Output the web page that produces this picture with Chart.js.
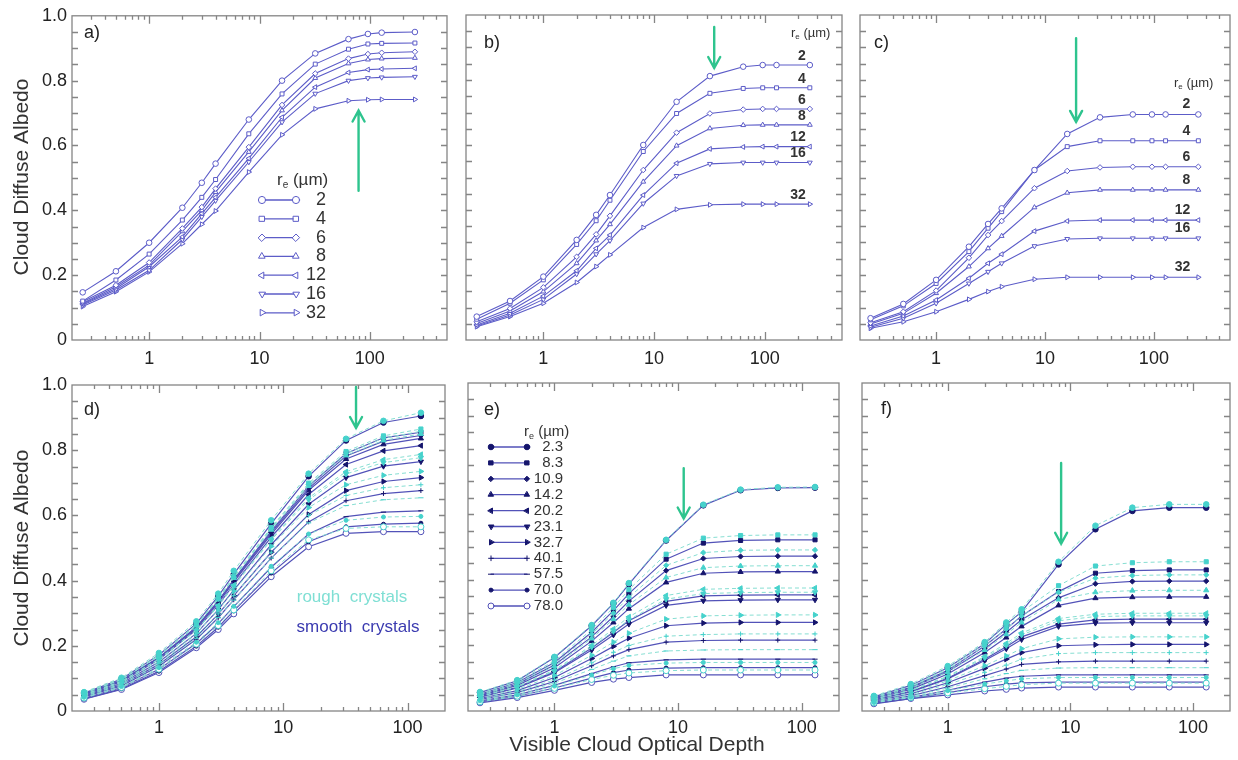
<!DOCTYPE html>
<html>
<head>
<meta charset="utf-8">
<script src="https://cdn.jsdelivr.net/npm/chart.js@4.4.0/dist/chart.umd.min.js"></script>
<style>
  body { margin: 0; background: #fff; width: 1238px; height: 760px; overflow: hidden; position: relative; }
  canvas { position: absolute; left: 0; top: 0; }
</style>
</head>
<body>
<canvas id="pa" width="1238" height="760"></canvas>
<canvas id="pb" width="1238" height="760"></canvas>
<canvas id="pc" width="1238" height="760"></canvas>
<canvas id="pd" width="1238" height="760"></canvas>
<canvas id="pe" width="1238" height="760"></canvas>
<canvas id="pf" width="1238" height="760"></canvas>
<script>
// optical depths used in the water (top) and ice (bottom) runs
const tauWater = [0.25, 0.5, 1, 2, 3, 4, 8, 16, 32, 64, 96, 128, 256];
const tauIce = [0.25, 0.5, 1, 2, 3, 4, 8, 16, 32, 64, 128];
const radiiWater = ['2', '4', '6', '8', '12', '16', '32'];
const radiiIce = ['2.3', '8.3', '10.9', '14.2', '20.2', '23.1', '32.7', '40.1', '57.5', '70.0', '78.0'];
const xTickLabels = [1, 10, 100];
const yTickLabels = [0, 0.2, 0.4, 0.6, 0.8, 1.0];

// a) water clouds
const albedoA = [
  [0.147, 0.212, 0.300, 0.408, 0.485, 0.544, 0.680, 0.800, 0.884, 0.928, 0.944, 0.948, 0.950],
  [0.120, 0.185, 0.265, 0.370, 0.440, 0.495, 0.636, 0.759, 0.851, 0.897, 0.913, 0.915, 0.916],
  [0.118, 0.169, 0.239, 0.344, 0.410, 0.467, 0.595, 0.725, 0.822, 0.868, 0.882, 0.886, 0.889],
  [0.113, 0.164, 0.231, 0.335, 0.400, 0.456, 0.580, 0.708, 0.808, 0.853, 0.865, 0.868, 0.870],
  [0.111, 0.159, 0.226, 0.318, 0.390, 0.440, 0.560, 0.687, 0.780, 0.825, 0.834, 0.836, 0.838],
  [0.108, 0.154, 0.215, 0.310, 0.380, 0.430, 0.549, 0.672, 0.760, 0.800, 0.808, 0.810, 0.812],
  [0.103, 0.149, 0.210, 0.297, 0.357, 0.398, 0.518, 0.633, 0.713, 0.738, 0.741, 0.742, 0.742]
];
// b)
const albedoB = [
  [0.072, 0.120, 0.195, 0.308, 0.385, 0.446, 0.600, 0.733, 0.812, 0.841, 0.846, 0.846, 0.846],
  [0.064, 0.113, 0.185, 0.294, 0.367, 0.430, 0.580, 0.697, 0.759, 0.774, 0.776, 0.776, 0.776],
  [0.056, 0.097, 0.162, 0.256, 0.325, 0.382, 0.523, 0.638, 0.697, 0.709, 0.711, 0.711, 0.711],
  [0.051, 0.089, 0.149, 0.236, 0.306, 0.356, 0.487, 0.598, 0.651, 0.661, 0.662, 0.662, 0.662],
  [0.046, 0.082, 0.135, 0.213, 0.282, 0.323, 0.446, 0.544, 0.588, 0.594, 0.595, 0.595, 0.595],
  [0.043, 0.077, 0.125, 0.203, 0.264, 0.306, 0.420, 0.505, 0.542, 0.546, 0.546, 0.546, 0.546],
  [0.041, 0.072, 0.113, 0.177, 0.226, 0.262, 0.346, 0.402, 0.416, 0.418, 0.418, 0.418, 0.418]
];
// c)
const albedoC = [
  [0.067, 0.111, 0.185, 0.287, 0.357, 0.405, 0.523, 0.634, 0.685, 0.694, 0.694, 0.694, 0.694],
  [0.062, 0.105, 0.174, 0.272, 0.344, 0.395, 0.523, 0.595, 0.613, 0.613, 0.613, 0.613, 0.613],
  [0.053, 0.087, 0.152, 0.253, 0.323, 0.366, 0.467, 0.520, 0.531, 0.533, 0.533, 0.533, 0.533],
  [0.049, 0.082, 0.144, 0.226, 0.282, 0.320, 0.408, 0.453, 0.462, 0.462, 0.462, 0.462, 0.462],
  [0.043, 0.074, 0.123, 0.190, 0.236, 0.264, 0.335, 0.366, 0.369, 0.369, 0.369, 0.369, 0.369],
  [0.039, 0.067, 0.113, 0.174, 0.210, 0.236, 0.289, 0.311, 0.313, 0.313, 0.313, 0.313, 0.313],
  [0.036, 0.056, 0.087, 0.125, 0.149, 0.164, 0.187, 0.193, 0.193, 0.193, 0.193, 0.193, 0.193]
];

// d) ice clouds, smooth and rough crystals
const smoothD = [
  [0.055, 0.098, 0.172, 0.268, 0.352, 0.420, 0.575, 0.720, 0.830, 0.885, 0.905],
  [0.052, 0.094, 0.164, 0.258, 0.338, 0.403, 0.552, 0.690, 0.790, 0.838, 0.855],
  [0.052, 0.093, 0.163, 0.255, 0.335, 0.399, 0.547, 0.683, 0.782, 0.828, 0.845],
  [0.051, 0.092, 0.161, 0.253, 0.332, 0.396, 0.542, 0.677, 0.773, 0.818, 0.836],
  [0.050, 0.090, 0.158, 0.249, 0.325, 0.388, 0.533, 0.664, 0.756, 0.798, 0.814],
  [0.047, 0.085, 0.150, 0.238, 0.311, 0.371, 0.510, 0.634, 0.716, 0.751, 0.765],
  [0.045, 0.081, 0.143, 0.228, 0.297, 0.354, 0.487, 0.603, 0.676, 0.704, 0.716],
  [0.043, 0.077, 0.137, 0.220, 0.286, 0.341, 0.469, 0.580, 0.645, 0.667, 0.676],
  [0.039, 0.072, 0.128, 0.207, 0.268, 0.320, 0.441, 0.543, 0.596, 0.610, 0.614],
  [0.037, 0.068, 0.122, 0.199, 0.257, 0.307, 0.423, 0.519, 0.565, 0.573, 0.576],
  [0.036, 0.066, 0.118, 0.194, 0.250, 0.298, 0.412, 0.504, 0.545, 0.550, 0.550]
];
const roughD = [
  [0.058, 0.102, 0.178, 0.275, 0.360, 0.430, 0.585, 0.728, 0.835, 0.890, 0.915],
  [0.055, 0.098, 0.171, 0.265, 0.346, 0.413, 0.563, 0.699, 0.796, 0.844, 0.865],
  [0.055, 0.097, 0.170, 0.264, 0.344, 0.410, 0.560, 0.695, 0.790, 0.837, 0.858],
  [0.055, 0.096, 0.169, 0.262, 0.342, 0.408, 0.556, 0.690, 0.784, 0.830, 0.850],
  [0.051, 0.091, 0.160, 0.249, 0.324, 0.386, 0.528, 0.654, 0.734, 0.771, 0.787],
  [0.051, 0.090, 0.158, 0.247, 0.321, 0.383, 0.524, 0.648, 0.727, 0.762, 0.777],
  [0.049, 0.087, 0.152, 0.239, 0.310, 0.368, 0.505, 0.624, 0.694, 0.723, 0.735],
  [0.047, 0.083, 0.146, 0.231, 0.298, 0.354, 0.487, 0.600, 0.661, 0.685, 0.694],
  [0.045, 0.080, 0.141, 0.223, 0.287, 0.340, 0.469, 0.577, 0.630, 0.648, 0.654],
  [0.042, 0.075, 0.133, 0.211, 0.271, 0.321, 0.444, 0.543, 0.585, 0.595, 0.597],
  [0.040, 0.072, 0.128, 0.205, 0.262, 0.310, 0.430, 0.525, 0.560, 0.565, 0.565]
];
// e)
const smoothE = [
  [0.056, 0.092, 0.163, 0.260, 0.328, 0.387, 0.520, 0.627, 0.673, 0.680, 0.681],
  [0.051, 0.087, 0.148, 0.240, 0.306, 0.358, 0.463, 0.512, 0.520, 0.522, 0.522],
  [0.048, 0.082, 0.140, 0.226, 0.288, 0.335, 0.428, 0.465, 0.471, 0.472, 0.472],
  [0.046, 0.078, 0.132, 0.213, 0.270, 0.312, 0.392, 0.420, 0.424, 0.425, 0.425],
  [0.043, 0.072, 0.120, 0.192, 0.240, 0.275, 0.334, 0.351, 0.353, 0.354, 0.354],
  [0.042, 0.070, 0.117, 0.186, 0.232, 0.265, 0.322, 0.336, 0.338, 0.339, 0.339],
  [0.038, 0.062, 0.102, 0.160, 0.197, 0.222, 0.260, 0.268, 0.270, 0.270, 0.270],
  [0.035, 0.056, 0.090, 0.138, 0.168, 0.187, 0.210, 0.215, 0.216, 0.216, 0.216],
  [0.031, 0.049, 0.078, 0.114, 0.135, 0.147, 0.156, 0.158, 0.158, 0.158, 0.158],
  [0.028, 0.045, 0.070, 0.100, 0.117, 0.125, 0.131, 0.132, 0.132, 0.132, 0.132],
  [0.025, 0.041, 0.063, 0.087, 0.097, 0.102, 0.110, 0.110, 0.110, 0.110, 0.110]
];
const roughE = [
  [0.058, 0.094, 0.165, 0.262, 0.330, 0.390, 0.522, 0.629, 0.675, 0.682, 0.683],
  [0.053, 0.090, 0.153, 0.248, 0.316, 0.370, 0.478, 0.527, 0.535, 0.537, 0.537],
  [0.050, 0.085, 0.145, 0.234, 0.298, 0.347, 0.444, 0.483, 0.490, 0.491, 0.491],
  [0.048, 0.081, 0.137, 0.221, 0.280, 0.324, 0.407, 0.437, 0.442, 0.443, 0.443],
  [0.045, 0.075, 0.125, 0.200, 0.250, 0.287, 0.352, 0.371, 0.374, 0.375, 0.375],
  [0.044, 0.073, 0.122, 0.195, 0.243, 0.278, 0.341, 0.358, 0.361, 0.362, 0.362],
  [0.040, 0.066, 0.108, 0.170, 0.210, 0.237, 0.280, 0.290, 0.292, 0.293, 0.293],
  [0.037, 0.059, 0.095, 0.147, 0.179, 0.200, 0.228, 0.233, 0.235, 0.235, 0.235],
  [0.034, 0.054, 0.085, 0.127, 0.152, 0.168, 0.183, 0.186, 0.187, 0.187, 0.187],
  [0.031, 0.049, 0.076, 0.110, 0.129, 0.139, 0.146, 0.148, 0.148, 0.148, 0.148],
  [0.028, 0.045, 0.069, 0.096, 0.109, 0.116, 0.123, 0.125, 0.125, 0.125, 0.125]
];
// f)
const smoothF = [
  [0.043, 0.078, 0.132, 0.205, 0.264, 0.302, 0.447, 0.554, 0.610, 0.620, 0.620],
  [0.040, 0.072, 0.124, 0.198, 0.250, 0.290, 0.364, 0.420, 0.428, 0.430, 0.430],
  [0.039, 0.070, 0.120, 0.190, 0.240, 0.278, 0.345, 0.388, 0.395, 0.396, 0.396],
  [0.037, 0.066, 0.113, 0.178, 0.224, 0.258, 0.322, 0.344, 0.347, 0.348, 0.348],
  [0.034, 0.060, 0.100, 0.158, 0.196, 0.226, 0.265, 0.278, 0.280, 0.280, 0.280],
  [0.033, 0.058, 0.098, 0.154, 0.190, 0.218, 0.258, 0.268, 0.269, 0.269, 0.269],
  [0.030, 0.052, 0.086, 0.130, 0.158, 0.178, 0.199, 0.202, 0.203, 0.203, 0.203],
  [0.027, 0.046, 0.074, 0.108, 0.128, 0.142, 0.150, 0.152, 0.152, 0.152, 0.152],
  [0.025, 0.041, 0.063, 0.088, 0.100, 0.106, 0.110, 0.110, 0.110, 0.110, 0.110],
  [0.023, 0.038, 0.056, 0.074, 0.082, 0.086, 0.088, 0.088, 0.088, 0.088, 0.088],
  [0.022, 0.038, 0.049, 0.061, 0.066, 0.070, 0.073, 0.073, 0.073, 0.073, 0.073]
];
const roughF = [
  [0.046, 0.082, 0.137, 0.210, 0.270, 0.310, 0.455, 0.565, 0.620, 0.630, 0.630],
  [0.043, 0.076, 0.130, 0.206, 0.260, 0.302, 0.382, 0.442, 0.452, 0.455, 0.455],
  [0.042, 0.074, 0.126, 0.198, 0.250, 0.290, 0.362, 0.405, 0.413, 0.415, 0.415],
  [0.040, 0.070, 0.119, 0.186, 0.234, 0.270, 0.340, 0.362, 0.367, 0.368, 0.368],
  [0.037, 0.064, 0.106, 0.166, 0.206, 0.238, 0.282, 0.295, 0.298, 0.298, 0.298],
  [0.036, 0.062, 0.104, 0.162, 0.200, 0.232, 0.275, 0.288, 0.290, 0.290, 0.290],
  [0.033, 0.056, 0.092, 0.138, 0.168, 0.190, 0.220, 0.225, 0.226, 0.226, 0.226],
  [0.030, 0.050, 0.081, 0.118, 0.140, 0.158, 0.175, 0.178, 0.178, 0.178, 0.178],
  [0.028, 0.045, 0.070, 0.098, 0.114, 0.124, 0.131, 0.132, 0.132, 0.132, 0.132],
  [0.026, 0.042, 0.062, 0.082, 0.092, 0.098, 0.102, 0.102, 0.102, 0.102, 0.102],
  [0.025, 0.041, 0.055, 0.068, 0.075, 0.080, 0.085, 0.085, 0.085, 0.085, 0.085]
];

const FONT = "'Liberation Sans', Arial, Helvetica, sans-serif";
const LINE_WATER = '#5c5cc8';
const LINE_SMOOTH = '#5252b8';
const DOT_SMOOTH = '#15156c';
const LINE_ROUGH = '#86ded2';
const DOT_ROUGH = '#46d2cc';
const ARROW = '#2ec48e';

const waterMarkers = [
  { s: 'circle' }, { s: 'rect' }, { s: 'rectRot' }, { s: 'triangle' },
  { s: 'triangle', rot: -90 }, { s: 'triangle', rot: 180 }, { s: 'triangle', rot: 90 }
];
const iceMarkers = [
  { s: 'circle', r: 2.8 }, { s: 'rect', r: 2.9 }, { s: 'rectRot', r: 2.6 }, { s: 'triangle', r: 3 },
  { s: 'triangle', r: 3, rot: -90 }, { s: 'triangle', r: 3, rot: 180 }, { s: 'triangle', r: 3, rot: 90 },
  { s: 'cross', r: 2.4 }, { s: 'line', r: 2.6 }, { s: 'circle', r: 2 }, { s: 'circle', r: 3, open: true }
];

function points(taus, vals) {
  return taus.map((t, i) => ({ x: t, y: vals[i] }));
}

function waterSets(curves) {
  return curves.map((vals, i) => ({
    label: radiiWater[i],
    data: points(tauWater, vals),
    borderColor: LINE_WATER,
    borderWidth: 1.1,
    pointStyle: waterMarkers[i].s,
    pointRotation: waterMarkers[i].rot || 0,
    pointRadius: 2.8,
    pointBorderWidth: 1,
    pointBorderColor: LINE_WATER,
    pointBackgroundColor: '#fff'
  }));
}

function iceSets(smooth, rough) {
  const sets = [];
  rough.forEach((vals, i) => {
    const m = iceMarkers[i];
    sets.push({
      label: 'rough ' + radiiIce[i],
      data: points(tauIce, vals),
      borderColor: LINE_ROUGH,
      borderWidth: 1,
      borderDash: [4, 3],
      pointStyle: m.s,
      pointRotation: m.rot || 0,
      pointRadius: m.r,
      pointBorderWidth: 1,
      pointBorderColor: DOT_ROUGH,
      pointBackgroundColor: m.open ? '#fff' : DOT_ROUGH
    });
  });
  smooth.forEach((vals, i) => {
    const m = iceMarkers[i];
    sets.push({
      label: 'smooth ' + radiiIce[i],
      data: points(tauIce, vals),
      borderColor: LINE_SMOOTH,
      borderWidth: 1.2,
      pointStyle: m.s,
      pointRotation: m.rot || 0,
      pointRadius: m.r,
      pointBorderWidth: 1,
      pointBorderColor: m.open ? LINE_SMOOTH : DOT_SMOOTH,
      pointBackgroundColor: m.open ? '#fff' : DOT_SMOOTH
    });
  });
  return sets;
}

// r_e (µm) with a subscript e
function drawRe(ctx, x, y, size, color) {
  ctx.fillStyle = color;
  ctx.textAlign = 'left';
  ctx.textBaseline = 'middle';
  ctx.font = `${size}px ${FONT}`;
  ctx.fillText('r', x, y);
  const w = ctx.measureText('r').width;
  ctx.font = `${Math.round(size * 0.6)}px ${FONT}`;
  ctx.fillText('e', x + w, y + size * 0.3);
  const we = ctx.measureText('e').width;
  ctx.font = `${size}px ${FONT}`;
  ctx.fillText(' (µm)', x + w + we, y);
}

function drawMarker(ctx, m, x, y, fill, stroke) {
  ctx.fillStyle = fill;
  ctx.strokeStyle = stroke;
  ctx.lineWidth = 1;
  Chart.helpers.drawPoint(ctx, { pointStyle: m.s, rotation: m.rot || 0, radius: m.r || 3, borderWidth: 1 }, x, y);
}

const panelDecor = {
  id: 'panelDecor',
  beforeDatasetsDraw(chart) {
    const { ctx, chartArea: a } = chart;
    const xs = chart.scales.x, ys = chart.scales.y;
    ctx.save();
    ctx.strokeStyle = '#858585';
    ctx.lineWidth = 1.3;
    ctx.strokeRect(a.left, a.top, a.right - a.left, a.bottom - a.top);
    ctx.beginPath();
    xs.ticks.forEach(t => {
      const v = t.value;
      const e = Math.floor(Math.log10(v) + 1e-9);
      const m = v / Math.pow(10, e);
      if (Math.abs(m - Math.round(m)) > 1e-6) return;
      const px = Math.round(xs.getPixelForValue(v)) + 0.5;
      if (px <= a.left + 1 || px >= a.right - 1) return;
      const len = Math.round(m) === 1 ? 8 : 4;
      ctx.moveTo(px, a.bottom); ctx.lineTo(px, a.bottom - len);
      ctx.moveTo(px, a.top); ctx.lineTo(px, a.top + len);
    });
    ys.ticks.forEach(t => {
      const py = Math.round(ys.getPixelForValue(t.value)) + 0.5;
      if (py <= a.top + 1 || py >= a.bottom - 1) return;
      ctx.moveTo(a.left, py); ctx.lineTo(a.left + 6, py);
      ctx.moveTo(a.right, py); ctx.lineTo(a.right - 6, py);
    });
    ctx.stroke();
    ctx.restore();
  },
  afterDatasetsDraw(chart, args, o) {
    const { ctx } = chart;
    const xs = chart.scales.x, ys = chart.scales.y;
    ctx.save();

    // panel letter
    ctx.fillStyle = '#222';
    ctx.font = `18px ${FONT}`;
    ctx.textAlign = 'left';
    ctx.textBaseline = 'middle';
    ctx.fillText(o.tag, o.tagX, o.tagY);

    // green arrow
    if (o.arrow) {
      const px = xs.getPixelForValue(o.arrow.x);
      const y0 = ys.getPixelForValue(o.arrow.from);
      const y1 = ys.getPixelForValue(o.arrow.to);
      const dir = y1 > y0 ? 1 : -1;
      ctx.strokeStyle = ARROW;
      ctx.lineWidth = 2.4;
      ctx.lineCap = 'round';
      ctx.beginPath();
      ctx.moveTo(px, y0); ctx.lineTo(px, y1);
      ctx.moveTo(px - 6, y1 - dir * 11); ctx.lineTo(px, y1); ctx.lineTo(px + 6, y1 - dir * 11);
      ctx.stroke();
    }

    // numbers at the end of each curve (b, c)
    if (o.endLabels) {
      ctx.fillStyle = '#333';
      ctx.font = `bold 14px ${FONT}`;
      ctx.textAlign = 'right';
      ctx.textBaseline = 'middle';
      chart.data.datasets.forEach(ds => {
        const last = ds.data[ds.data.length - 1];
        ctx.fillText(ds.label, xs.getPixelForValue(last.x) + o.endLabels.dx, ys.getPixelForValue(last.y) + o.endLabels.dy);
      });
    }

    // r_e heading
    if (o.re) drawRe(ctx, o.re.x, o.re.y, o.re.size, '#333');

    // inline legend (a, e)
    if (o.legend) {
      const L = o.legend;
      L.labels.forEach((lab, i) => {
        const y = L.y0 + i * L.dy;
        const m = L.markers[i];
        const line = L.line;
        ctx.strokeStyle = line;
        ctx.lineWidth = 1.3;
        ctx.setLineDash([]);
        ctx.beginPath();
        ctx.moveTo(L.x1, y); ctx.lineTo(L.x2, y);
        ctx.stroke();
        const fill = L.hollow || m.open ? '#fff' : L.dot;
        const stroke = m.open ? line : (L.hollow ? line : L.dot);
        drawMarker(ctx, Object.assign({}, m, { r: (m.r || 3) + L.grow }), L.x1, y, fill, stroke);
        drawMarker(ctx, Object.assign({}, m, { r: (m.r || 3) + L.grow }), L.x2, y, fill, stroke);
        ctx.fillStyle = '#333';
        ctx.font = `${L.size}px ${FONT}`;
        ctx.textAlign = 'right';
        ctx.textBaseline = 'middle';
        ctx.fillText(lab, L.textRight, y);
      });
    }

    // free texts
    (o.texts || []).forEach(t => {
      ctx.save();
      ctx.fillStyle = t.color;
      ctx.font = t.font;
      ctx.textAlign = 'center';
      ctx.textBaseline = 'middle';
      ctx.translate(t.x, t.y);
      if (t.rotate) ctx.rotate(t.rotate);
      ctx.fillText(t.text, 0, 0);
      ctx.restore();
    });
    ctx.restore();
  }
};

function isDecade(v) {
  const lg = Math.log10(v);
  return Math.abs(lg - Math.round(lg)) < 1e-6 && xTickLabels.some(t => Math.abs(t - v) < 1e-6);
}

function makePanel(id, p) {
  const padding = {
    left: p.box[0] - p.yw,
    top: p.box[1],
    right: 1238 - p.box[2],
    bottom: 760 - p.box[3] - p.xh
  };
  return new Chart(document.getElementById(id), {
    type: 'line',
    data: { datasets: p.datasets },
    options: {
      responsive: false,
      animation: false,
      devicePixelRatio: 1,
      layout: { padding },
      elements: { line: { tension: 0 } },
      plugins: {
        legend: { display: false },
        tooltip: { enabled: false },
        panelDecor: p.decor
      },
      scales: {
        x: {
          type: 'logarithmic',
          min: 0.2,
          max: p.xmax,
          grid: { display: false, drawTicks: false },
          border: { display: false },
          ticks: {
            autoSkip: false,
            maxRotation: 0,
            padding: p.xpad,
            color: '#222',
            font: { family: FONT, size: 18 },
            callback: v => isDecade(v) ? String(Math.round(v)) : ''
          },
          afterFit: s => { s.height = p.xh; }
        },
        y: {
          min: 0,
          max: 1,
          grid: { display: false, drawTicks: false },
          border: { display: false },
          ticks: {
            display: p.yLabels,
            stepSize: 0.05,
            autoSkip: false,
            padding: 5,
            color: '#222',
            font: { family: FONT, size: 18 },
            callback: v => {
              const hit = yTickLabels.find(t => Math.abs(t - v) < 1e-6);
              if (hit === undefined) return '';
              return hit === 0 ? '0' : hit.toFixed(1);
            }
          },
          afterFit: s => { s.width = p.yw; }
        }
      }
    },
    plugins: [panelDecor]
  });
}

const yTitle = (y) => ({ text: 'Cloud Diffuse Albedo', x: 22, y, color: '#333', font: `21px ${FONT}`, rotate: -Math.PI / 2 });

makePanel('pa', {
  box: [72, 15, 447, 340], yw: 72, xh: 30, xpad: 8, xmax: 500, yLabels: true,
  datasets: waterSets(albedoA),
  decor: {
    tag: 'a)', tagX: 84, tagY: 33,
    arrow: { x: 79, from: 0.46, to: 0.708 },
    re: { x: 277, y: 180, size: 17 },
    legend: {
      labels: radiiWater, markers: waterMarkers, y0: 200, dy: 18.8, x1: 262, x2: 296,
      textRight: 326, size: 18, line: LINE_WATER, dot: LINE_WATER, hollow: true, grow: 0.6
    },
    texts: [yTitle(177)]
  }
});

makePanel('pb', {
  box: [466, 15, 842, 340], yw: 0, xh: 30, xpad: 8, xmax: 500, yLabels: false,
  datasets: waterSets(albedoB),
  decor: {
    tag: 'b)', tagX: 484, tagY: 43,
    arrow: { x: 35, from: 0.963, to: 0.837 },
    re: { x: 791, y: 33, size: 13 },
    endLabels: { dx: -4, dy: -9 }
  }
});

makePanel('pc', {
  box: [860, 15, 1232, 340], yw: 0, xh: 30, xpad: 8, xmax: 500, yLabels: false,
  datasets: waterSets(albedoC),
  decor: {
    tag: 'c)', tagX: 874, tagY: 43,
    arrow: { x: 19.3, from: 0.929, to: 0.671 },
    re: { x: 1174, y: 83, size: 13 },
    endLabels: { dx: -8, dy: -10 }
  }
});

makePanel('pd', {
  box: [72, 385, 445, 711], yw: 72, xh: 30, xpad: 6, xmax: 200, yLabels: true,
  datasets: iceSets(smoothD, roughD),
  decor: {
    tag: 'd)', tagX: 84, tagY: 410,
    arrow: { x: 38.5, from: 0.994, to: 0.868 },
    texts: [
      yTitle(548),
      { text: 'rough  crystals', x: 352, y: 597, color: '#7fdfd4', font: `17px ${FONT}` },
      { text: 'smooth  crystals', x: 358, y: 627, color: '#3b3bb0', font: `17px ${FONT}` }
    ]
  }
});

makePanel('pe', {
  box: [468, 383, 839, 711], yw: 0, xh: 48, xpad: 6, xmax: 200, yLabels: false,
  datasets: iceSets(smoothE, roughE),
  decor: {
    tag: 'e)', tagX: 484, tagY: 410,
    arrow: { x: 11.1, from: 0.74, to: 0.587 },
    re: { x: 524, y: 432, size: 15 },
    legend: {
      labels: radiiIce, markers: iceMarkers, y0: 447, dy: 15.9, x1: 491, x2: 527,
      textRight: 563, size: 15, line: LINE_SMOOTH, dot: DOT_SMOOTH, hollow: false, grow: 0
    },
    texts: [{ text: 'Visible Cloud Optical Depth', x: 637, y: 745, color: '#333', font: `21px ${FONT}` }]
  }
});

makePanel('pf', {
  box: [862, 383, 1230, 711], yw: 0, xh: 30, xpad: 6, xmax: 200, yLabels: false,
  datasets: iceSets(smoothF, roughF),
  decor: {
    tag: 'f)', tagX: 881, tagY: 409,
    arrow: { x: 8.4, from: 0.756, to: 0.51 }
  }
});
</script>
</body>
</html>
